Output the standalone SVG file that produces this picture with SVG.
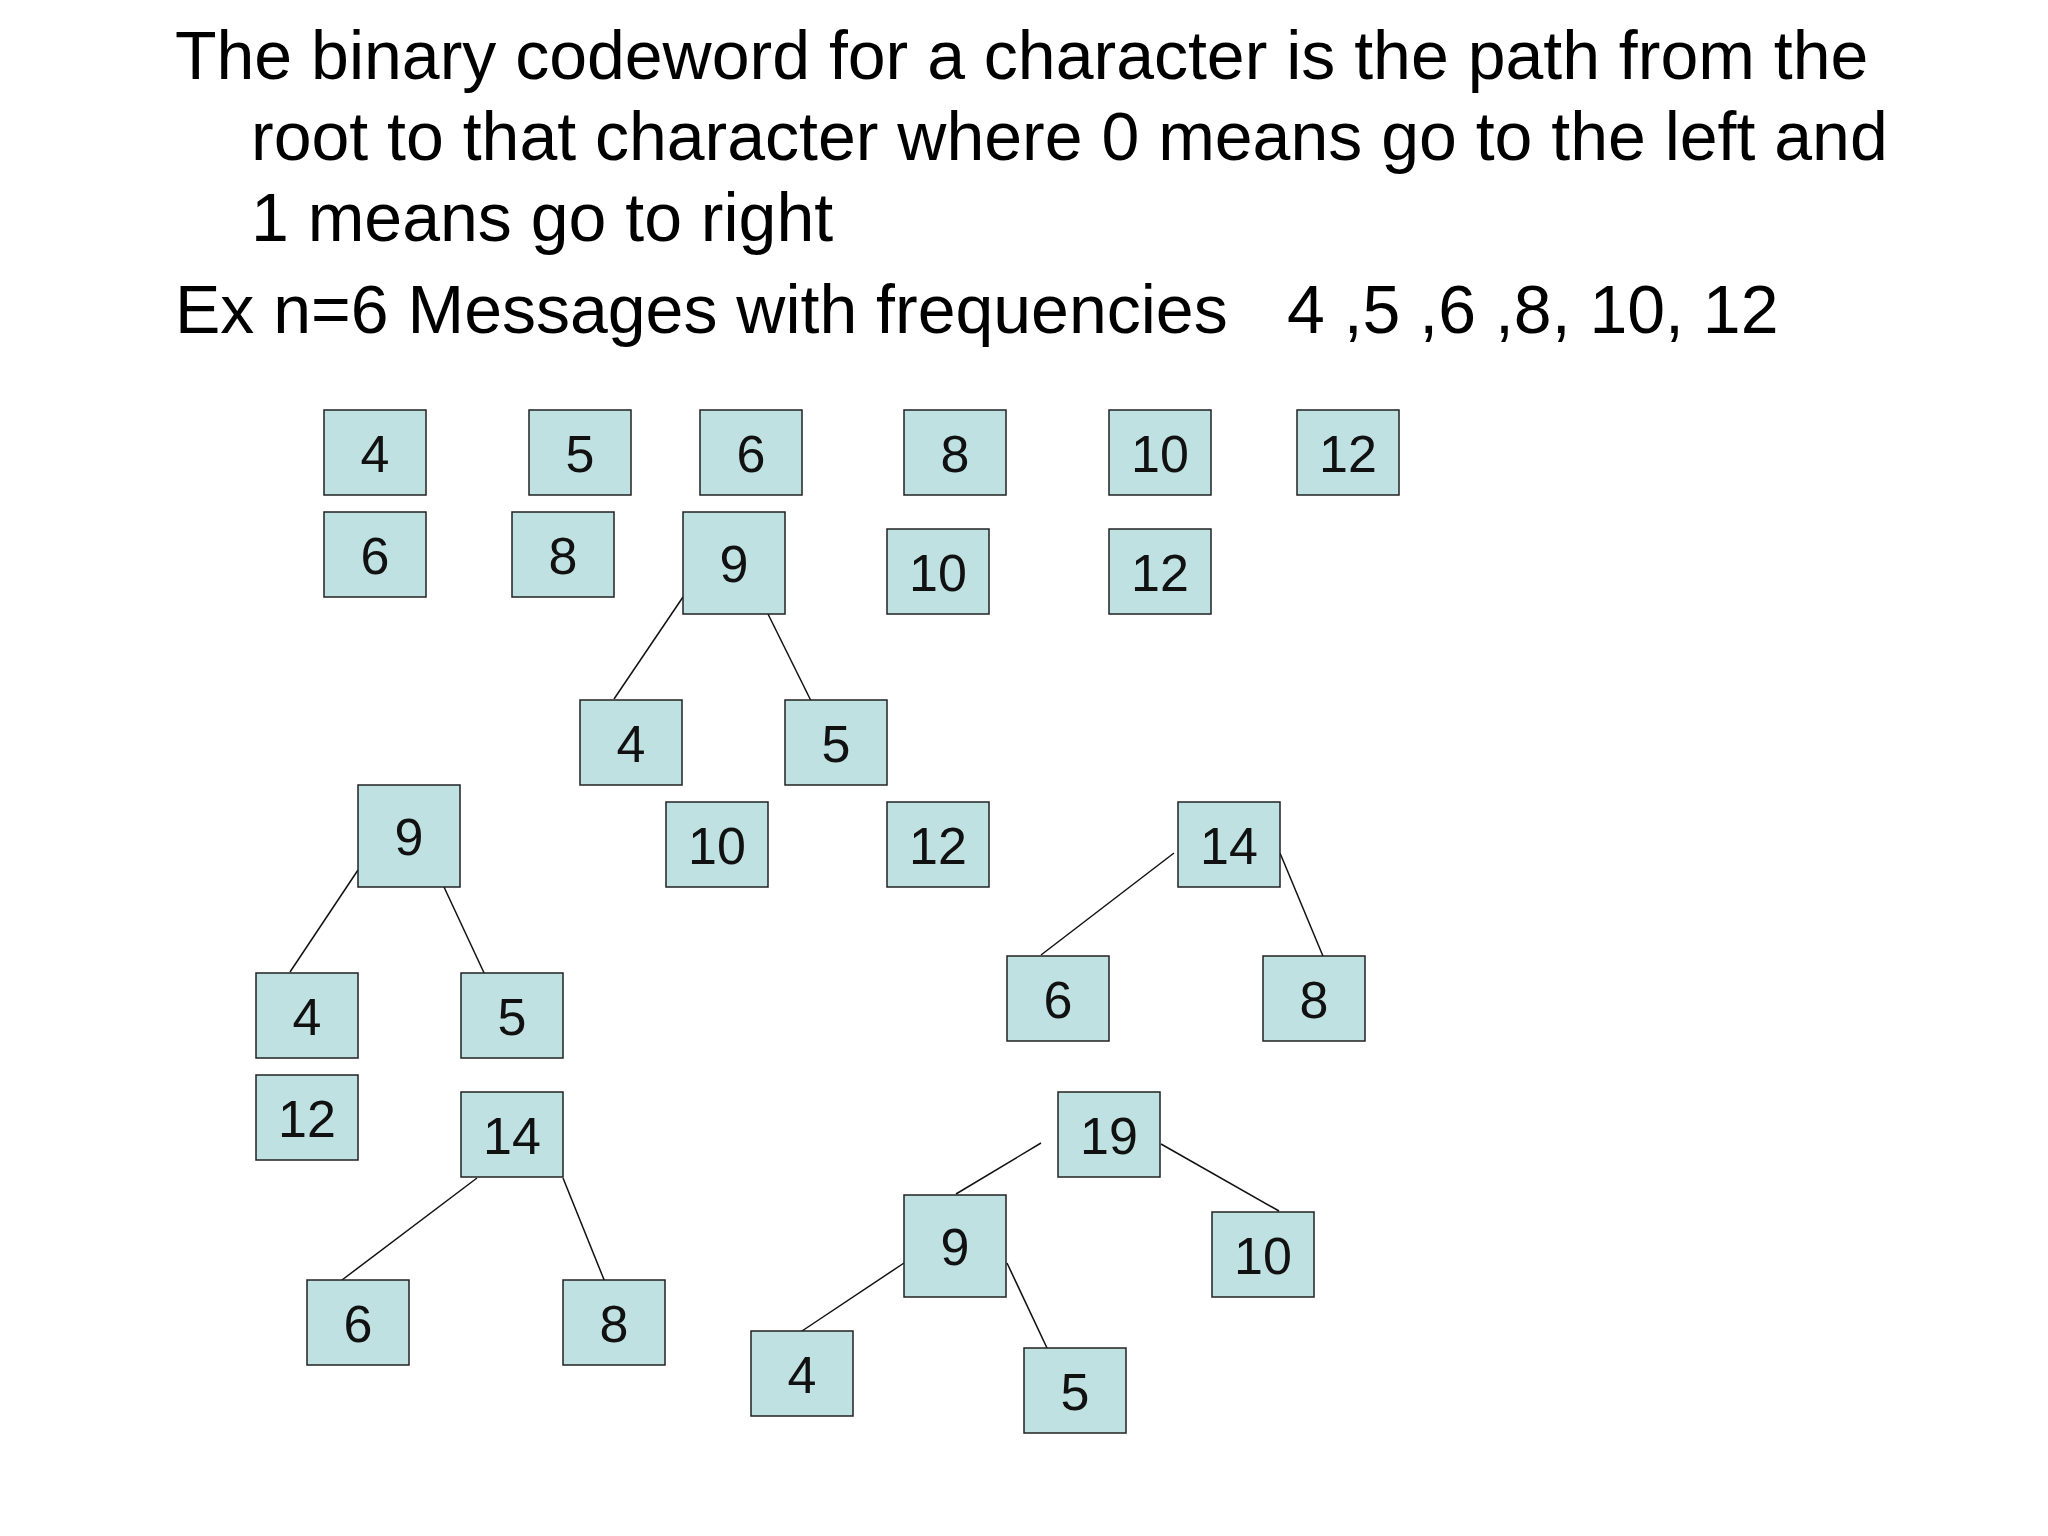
<svg xmlns="http://www.w3.org/2000/svg" width="2048" height="1536" viewBox="0 0 2048 1536">
<style>
.t{font-family:"Liberation Sans",Arial,sans-serif;font-size:68px;fill:#000}
.n rect{fill:#bfe1e1;stroke:#222;stroke-width:1.5}
.n text{font-family:"Liberation Sans",Arial,sans-serif;font-size:52px;fill:#111;text-anchor:middle}
#edges line{stroke:#111;stroke-width:1.5}
</style>
<rect width="2048" height="1536" fill="#fff"/>
<text class="t" x="175" y="79">The binary codeword for a character is the path from the</text>
<text class="t" x="251" y="160">root to that character where 0 means go to the left and</text>
<text class="t" x="251" y="241">1 means go to right</text>
<text class="t" x="175" y="333">Ex n=6 Messages with frequencies</text>
<text class="t" x="1287" y="333">4 ,5 ,6 ,8, 10, 12</text>
<g id="edges">
<line x1="683" y1="597" x2="614" y2="699"/><line x1="768" y1="614" x2="819" y2="717"/>
<line x1="358" y1="870" x2="290" y2="972"/><line x1="444" y1="887" x2="492" y2="990"/>
<line x1="1174" y1="853" x2="1041" y2="955"/><line x1="1280" y1="853" x2="1330" y2="973"/>
<line x1="477" y1="1178" x2="342" y2="1280"/><line x1="563" y1="1178" x2="611" y2="1297"/>
<line x1="1041" y1="1143" x2="956" y2="1194"/><line x1="1161" y1="1144" x2="1279" y2="1211"/>
<line x1="904" y1="1263" x2="802" y2="1331"/><line x1="1007" y1="1263" x2="1055" y2="1365"/>
</g>
<g id="a4" class="n"><rect x="324" y="410" width="102" height="85"/><text x="375" y="472">4</text></g>
<g id="a5" class="n"><rect x="529" y="410" width="102" height="85"/><text x="580" y="472">5</text></g>
<g id="a6" class="n"><rect x="700" y="410" width="102" height="85"/><text x="751" y="472">6</text></g>
<g id="a8" class="n"><rect x="904" y="410" width="102" height="85"/><text x="955" y="472">8</text></g>
<g id="a10" class="n"><rect x="1109" y="410" width="102" height="85"/><text x="1160" y="472">10</text></g>
<g id="a12" class="n"><rect x="1297" y="410" width="102" height="85"/><text x="1348" y="472">12</text></g>
<g id="b6" class="n"><rect x="324" y="512" width="102" height="85"/><text x="375" y="574">6</text></g>
<g id="b8" class="n"><rect x="512" y="512" width="102" height="85"/><text x="563" y="574">8</text></g>
<g id="b9" class="n"><rect x="683" y="512" width="102" height="102"/><text x="734" y="582">9</text></g>
<g id="b10" class="n"><rect x="887" y="529" width="102" height="85"/><text x="938" y="591">10</text></g>
<g id="b12" class="n"><rect x="1109" y="529" width="102" height="85"/><text x="1160" y="591">12</text></g>
<g id="b4" class="n"><rect x="580" y="700" width="102" height="85"/><text x="631" y="762">4</text></g>
<g id="b5" class="n"><rect x="785" y="700" width="102" height="85"/><text x="836" y="762">5</text></g>
<g id="c9" class="n"><rect x="358" y="785" width="102" height="102"/><text x="409" y="855">9</text></g>
<g id="c10" class="n"><rect x="666" y="802" width="102" height="85"/><text x="717" y="864">10</text></g>
<g id="c12" class="n"><rect x="887" y="802" width="102" height="85"/><text x="938" y="864">12</text></g>
<g id="d14" class="n"><rect x="1178" y="802" width="102" height="85"/><text x="1229" y="864">14</text></g>
<g id="c4" class="n"><rect x="256" y="973" width="102" height="85"/><text x="307" y="1035">4</text></g>
<g id="c5" class="n"><rect x="461" y="973" width="102" height="85"/><text x="512" y="1035">5</text></g>
<g id="d6" class="n"><rect x="1007" y="956" width="102" height="85"/><text x="1058" y="1018">6</text></g>
<g id="d8" class="n"><rect x="1263" y="956" width="102" height="85"/><text x="1314" y="1018">8</text></g>
<g id="c12b" class="n"><rect x="256" y="1075" width="102" height="85"/><text x="307" y="1137">12</text></g>
<g id="e14" class="n"><rect x="461" y="1092" width="102" height="85"/><text x="512" y="1154">14</text></g>
<g id="f19" class="n"><rect x="1058" y="1092" width="102" height="85"/><text x="1109" y="1154">19</text></g>
<g id="f9" class="n"><rect x="904" y="1195" width="102" height="102"/><text x="955" y="1265">9</text></g>
<g id="f10" class="n"><rect x="1212" y="1212" width="102" height="85"/><text x="1263" y="1274">10</text></g>
<g id="e6" class="n"><rect x="307" y="1280" width="102" height="85"/><text x="358" y="1342">6</text></g>
<g id="e8" class="n"><rect x="563" y="1280" width="102" height="85"/><text x="614" y="1342">8</text></g>
<g id="f4" class="n"><rect x="751" y="1331" width="102" height="85"/><text x="802" y="1393">4</text></g>
<g id="f5" class="n"><rect x="1024" y="1348" width="102" height="85"/><text x="1075" y="1410">5</text></g>
</svg>
